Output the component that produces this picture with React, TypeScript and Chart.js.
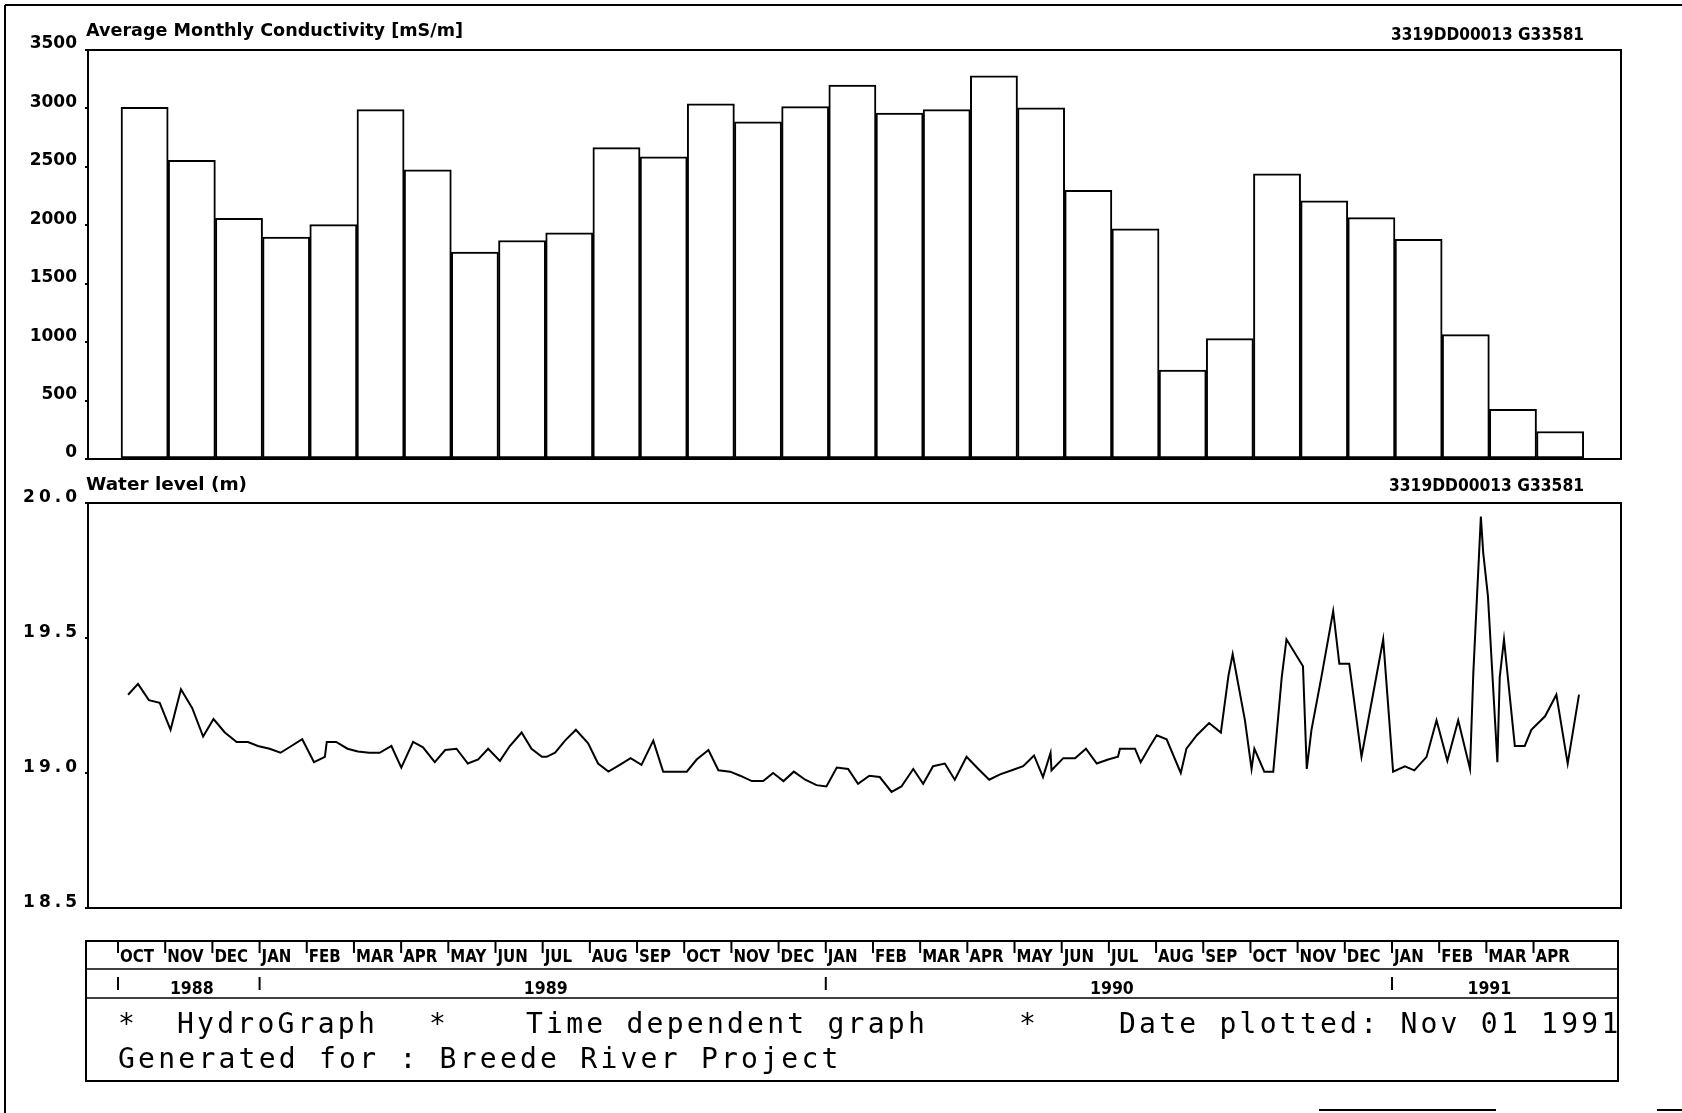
import React, { useEffect, useRef } from 'react';
import { Chart, registerables } from 'chart.js';

Chart.register(...registerables);

const W = 1682;
const H = 1113;

// ---- data ----
const monthLabels = ['OCT', 'NOV', 'DEC', 'JAN', 'FEB', 'MAR', 'APR', 'MAY', 'JUN', 'JUL', 'AUG', 'SEP',
  'OCT', 'NOV', 'DEC', 'JAN', 'FEB', 'MAR', 'APR', 'MAY', 'JUN', 'JUL', 'AUG', 'SEP',
  'OCT', 'NOV', 'DEC', 'JAN', 'FEB', 'MAR', 'APR'];

const conductivity = [3010, 2555, 2060, 1900, 2005, 2990, 2475, 1770, 1870, 1935, 2665, 2585,
  3040, 2885, 3015, 3200, 2960, 2990, 3280, 3005, 2300, 1970, 760, 1030,
  2440, 2210, 2065, 1880, 1065, 425, 235];

const yearLabels = ['1988', '1989', '1990', '1991'];
const yearStarts = [0, 3, 15, 27];
const yearEnds = [3, 15, 27, 31];

// months since 1 Oct 1988
const levelMonths = [0.15, 0.36, 0.59, 0.82, 1.05, 1.27, 1.51, 1.74, 1.96, 2.20,
  2.45, 2.69, 2.90, 3.15, 3.38, 3.61, 3.84, 4.09, 4.32, 4.36,
  4.56, 4.80, 5.02, 5.26, 5.48, 5.73, 5.94, 6.19, 6.40, 6.65,
  6.87, 7.11, 7.35, 7.57, 7.78, 8.03,
  8.24, 8.49, 8.70, 8.92, 9.02, 9.20, 9.41, 9.64, 9.90, 10.11,
  10.33, 10.57, 10.80, 11.03, 11.28, 11.49, 11.74, 11.99, 12.20, 12.45,
  12.66, 12.91, 13.12, 13.37, 13.61, 13.82, 14.04, 14.26, 14.50, 14.74,
  14.95, 15.17, 15.41, 15.62, 15.86, 16.08, 16.33, 16.54,
  16.79, 17.00, 17.21, 17.46, 17.67, 17.92, 18.17, 18.40, 18.63, 18.88,
  19.12, 19.35, 19.54, 19.62, 19.70, 19.72, 19.97, 20.22, 20.45, 20.68,
  20.92, 21.13, 21.17, 21.49, 21.61,
  21.81, 21.95, 22.16, 22.46, 22.58, 22.80, 23.06, 23.31, 23.47, 23.56,
  23.82, 23.96, 24.02, 24.23, 24.42, 24.60, 24.70, 25.05, 25.13, 25.23,
  25.44, 25.69, 25.82, 26.03, 26.29, 26.75, 26.96, 27.21, 27.41, 27.67,
  27.88, 28.11, 28.34, 28.59, 28.66, 28.82, 28.87, 28.97, 29.17, 29.22,
  29.31, 29.54, 29.75, 29.89, 30.18, 30.42, 30.66, 30.90];

const levelValues = [19.29, 19.33, 19.27, 19.26, 19.16, 19.31, 19.24, 19.135, 19.20, 19.15,
  19.115, 19.115, 19.10, 19.09, 19.075, 19.10, 19.125, 19.04, 19.06, 19.115,
  19.115, 19.09, 19.08, 19.075, 19.075, 19.10, 19.02, 19.115, 19.095, 19.04,
  19.085, 19.09, 19.035, 19.05, 19.09, 19.045,
  19.10, 19.15, 19.09, 19.06, 19.06, 19.075, 19.12, 19.16, 19.11, 19.035,
  19.005, 19.03, 19.055, 19.03, 19.12, 19.005, 19.005, 19.005, 19.05, 19.085,
  19.01, 19.005, 18.99, 18.97, 18.97, 19.00, 18.97, 19.005, 18.975, 18.955,
  18.95, 19.02, 19.015, 18.96, 18.99, 18.985, 18.93, 18.95,
  19.015, 18.96, 19.025, 19.035, 18.975, 19.06, 19.015, 18.975, 18.995, 19.01,
  19.025, 19.065, 18.985, 19.03, 19.075, 19.01, 19.055, 19.055, 19.09, 19.035,
  19.05, 19.06, 19.09, 19.09, 19.04,
  19.10, 19.14, 19.125, 19.00, 19.09, 19.14, 19.185, 19.15, 19.36, 19.44,
  19.195, 19.015, 19.09, 19.005, 19.005, 19.355, 19.495, 19.395, 19.015, 19.16,
  19.355, 19.60, 19.405, 19.405, 19.06, 19.495, 19.005, 19.025, 19.01, 19.06,
  19.195, 19.045, 19.195, 19.015, 19.37, 19.95, 19.815, 19.655, 19.04, 19.355,
  19.495, 19.10, 19.10, 19.16, 19.21, 19.29, 19.035, 19.29];

const condMin = 0;
const condMax = 3500;
const condStep = 500;
const levelMin = 18.5;
const levelMax = 20.0;
const levelStep = 0.5;

const titleTop = 'Average Monthly Conductivity [mS/m]';
const titleBottom = 'Water level (m)';
const stationCode = '3319DD00013 G33581';
const footerRow1 = [
  { text: '*', x: 118 },
  { text: 'HydroGraph', x: 177 },
  { text: '*', x: 429 },
  { text: 'Time dependent graph', x: 526 },
  { text: '*', x: 1019 },
  { text: 'Date plotted: Nov 01 1991', x: 1119 },
];
const footerRow2 = [{ text: 'Generated for : Breede River Project', x: 118 }];

// ---- layout ----
const X_MIN = -0.7;
const X_MAX = 31.79;
const AREA_LEFT = 88;
const AREA_RIGHT = 1621;

function fitText(ctx: CanvasRenderingContext2D, text: string, x: number, y: number, font: string, width: number, align: CanvasTextAlign) {
  ctx.save();
  ctx.font = font;
  const w = ctx.measureText(text).width;
  ctx.translate(x, y);
  ctx.scale(width / w, 1);
  ctx.textAlign = align;
  ctx.textBaseline = 'alphabetic';
  ctx.fillText(text, 0, 0);
  ctx.restore();
}

function line(ctx: CanvasRenderingContext2D, x1: number, y1: number, x2: number, y2: number, lw: number) {
  ctx.beginPath();
  ctx.lineWidth = lw;
  ctx.moveTo(x1, y1);
  ctx.lineTo(x2, y2);
  ctx.stroke();
}

const framePlugin = {
  id: 'frame',
  afterDatasetsDraw(chart: any) {
    const { ctx, chartArea: a } = chart;
    ctx.save();
    ctx.strokeStyle = '#000';
    ctx.lineWidth = 2;
    ctx.strokeRect(a.left, a.top, a.right - a.left, a.bottom - a.top);
    ctx.restore();
  },
};

const spacingPlugin = {
  id: 'spacing',
  beforeDraw(chart: any) {
    (chart.ctx as any).letterSpacing = '4px';
  },
  afterDraw(chart: any) {
    (chart.ctx as any).letterSpacing = '0px';
  },
};

const decorPlugin = {
  id: 'decor',
  afterDraw(chart: any) {
    const ctx: CanvasRenderingContext2D = chart.ctx;
    const xs = chart.scales.x;
    ctx.save();
    (ctx as any).letterSpacing = '0px';
    ctx.fillStyle = '#000';
    ctx.strokeStyle = '#000';

    // page frame
    line(ctx, 5, 5, W, 5, 2);
    line(ctx, 5, 5, 5, H, 2);
    line(ctx, 1319, 1110, 1496, 1110, 2);
    line(ctx, 1657, 1110, W, 1110, 2);

    // titles
    const tf = 'bold 17px "DejaVu Sans"';
    fitText(ctx, titleTop, 86, 36, tf, 377, 'left');
    fitText(ctx, stationCode, 1584, 40, tf, 193, 'right');
    fitText(ctx, titleBottom, 86, 490, tf, 161, 'left');
    fitText(ctx, stationCode, 1584, 491, tf, 195, 'right');

    // bottom box
    const bl = 86, br = 1618, bt = 941, bb = 1081;
    ctx.lineWidth = 2;
    ctx.strokeRect(bl, bt, br - bl, bb - bt);
    line(ctx, bl, 969, br, 969, 1.5);
    line(ctx, bl, 998, br, 998, 1.5);

    const mf = 'bold 18px "DejaVu Sans"';
    ctx.font = mf;
    const sx = 34 / ctx.measureText('OCT').width;
    monthLabels.forEach((m, i) => {
      const px = xs.getPixelForValue(i);
      line(ctx, px - 3, bt, px - 3, 953, 2);
      ctx.save();
      ctx.font = mf;
      ctx.translate(px - 1, 962);
      ctx.scale(sx, 1);
      ctx.textAlign = 'left';
      ctx.fillText(m, 0, 0);
      ctx.restore();
    });

    yearLabels.forEach((y, i) => {
      const ps = xs.getPixelForValue(yearStarts[i]);
      line(ctx, ps - 3, 977, ps - 3, 990, 2);
      const pc = xs.getPixelForValue((yearStarts[i] + yearEnds[i]) / 2);
      ctx.save();
      ctx.font = mf;
      ctx.translate(pc, 994);
      ctx.scale(sx * 1.05, 1);
      ctx.textAlign = 'center';
      ctx.fillText(y, 0, 0);
      ctx.restore();
    });

    // footer
    const ff = '28px "DejaVu Sans Mono"';
    ctx.font = ff;
    const pitch = 20.1;
    const ls = pitch - ctx.measureText('M').width;
    (ctx as any).letterSpacing = `${ls}px`;
    ctx.textAlign = 'left';
    footerRow1.forEach((s) => ctx.fillText(s.text, s.x, 1033));
    footerRow2.forEach((s) => ctx.fillText(s.text, s.x, 1068));
    (ctx as any).letterSpacing = '0px';
    ctx.restore();
  },
};

function yAxis(min: number, max: number, step: number, fmt: (v: number) => string, padding: number, labelOffset: number) {
  return {
    min,
    max,
    ticks: {
      stepSize: step,
      color: '#000',
      font: { family: 'DejaVu Sans', size: 17, weight: 'bold' as const },
      padding,
      labelOffset,
      callback: (v: any) => fmt(Number(v)),
    },
    grid: { display: true, drawOnChartArea: false, drawTicks: true, tickLength: 3, color: '#000', lineWidth: 2 },
    border: { display: true, color: '#000', width: 2 },
    afterFit: (s: any) => { s.width = AREA_LEFT; },
  };
}

export default function App() {
  const c1 = useRef<HTMLCanvasElement>(null);
  const c2 = useRef<HTMLCanvasElement>(null);

  useEffect(() => {
    const ch1 = new Chart(c1.current as HTMLCanvasElement, {
      type: 'bar',
      data: {
        datasets: [{
          data: conductivity.map((v, i) => ({ x: i + 0.5, y: v })),
          backgroundColor: '#ffffff',
          borderColor: '#000000',
          borderWidth: 2,
          borderSkipped: false,
          categoryPercentage: 1,
          barPercentage: 1,
        } as any],
      },
      options: {
        animation: false,
        responsive: false,
        devicePixelRatio: 1,
        layout: { padding: { left: 0, top: 50, right: W - AREA_RIGHT, bottom: H - 459 } },
        plugins: { legend: { display: false }, tooltip: { enabled: false } },
        scales: {
          x: { type: 'linear', min: X_MIN, max: X_MAX, display: false, offset: false },
          y: yAxis(condMin, condMax, condStep, (v) => String(v), 8, -6) as any,
        },
      },
      plugins: [framePlugin],
    });

    const ch2 = new Chart(c2.current as HTMLCanvasElement, {
      type: 'line',
      data: {
        datasets: [{
          data: levelMonths.map((m, i) => ({ x: m, y: levelValues[i] })),
          borderColor: '#000000',
          borderWidth: 2,
          pointRadius: 0,
          tension: 0,
          fill: false,
        }],
      },
      options: {
        animation: false,
        responsive: false,
        devicePixelRatio: 1,
        layout: { padding: { left: 0, top: 503, right: W - AREA_RIGHT, bottom: H - 908 } },
        plugins: { legend: { display: false }, tooltip: { enabled: false } },
        scales: {
          x: { type: 'linear', min: X_MIN, max: X_MAX, display: false, offset: false },
          y: yAxis(levelMin, levelMax, levelStep, (v) => v.toFixed(1), 4, -5) as any,
        },
      },
      plugins: [spacingPlugin, framePlugin, decorPlugin],
    });

    return () => {
      ch1.destroy();
      ch2.destroy();
    };
  }, []);

  return (
    <div style={{ position: 'absolute', left: 0, top: 0, width: W, height: H, background: '#fff', overflow: 'hidden' }}>
      <canvas ref={c1} width={W} height={H} style={{ position: 'absolute', left: 0, top: 0 }} />
      <canvas ref={c2} width={W} height={H} style={{ position: 'absolute', left: 0, top: 0 }} />
    </div>
  );
}
